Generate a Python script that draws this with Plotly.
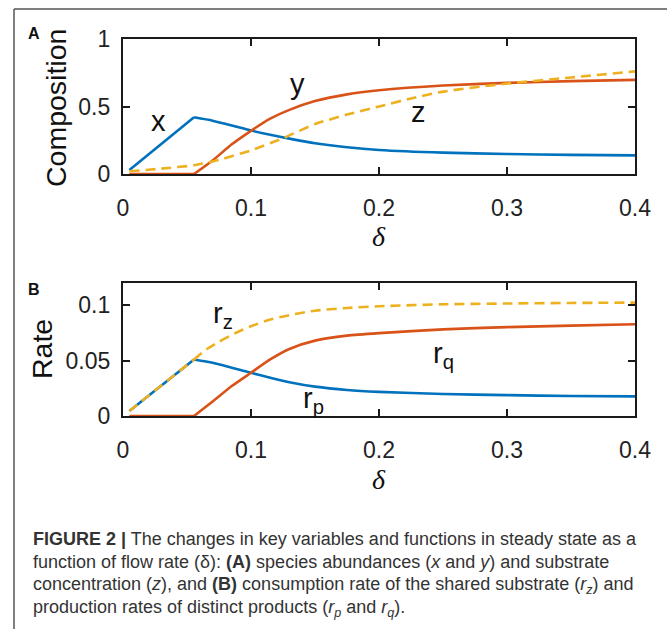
import plotly.graph_objects as go

# ---------------- data ----------------
# Panel A: composition vs flow rate delta
delta_a = [0.005, 0.0555, 0.07, 0.085, 0.1, 0.115, 0.13, 0.15, 0.175, 0.2, 0.25, 0.3, 0.35, 0.4]
x_abund = [0.03, 0.42, 0.395, 0.36, 0.322, 0.29, 0.262, 0.228, 0.198, 0.178, 0.158, 0.148, 0.142, 0.138]
y_abund = [0.0, 0.0, 0.1, 0.22, 0.32, 0.41, 0.475, 0.54, 0.59, 0.62, 0.655, 0.675, 0.688, 0.697]
delta_z = [0.005, 0.03, 0.0555, 0.075, 0.1, 0.125, 0.15, 0.175, 0.2, 0.225, 0.25, 0.3, 0.35, 0.4]
z_conc = [0.02, 0.04, 0.065, 0.105, 0.175, 0.265, 0.37, 0.44, 0.5, 0.56, 0.61, 0.67, 0.715, 0.76]

# Panel B: rates vs flow rate delta
delta_b = [0.005, 0.0555, 0.07, 0.085, 0.1, 0.115, 0.13, 0.15, 0.175, 0.2, 0.25, 0.3, 0.35, 0.4]
r_p = [0.0045, 0.051, 0.048, 0.0435, 0.039, 0.0345, 0.0305, 0.0265, 0.0235, 0.0218, 0.0198, 0.0188, 0.0181, 0.0177]
r_q = [0.0, 0.0, 0.013, 0.027, 0.039, 0.051, 0.0605, 0.068, 0.0725, 0.0748, 0.0782, 0.0802, 0.0815, 0.0828]
delta_rz = [0.005, 0.0555, 0.065, 0.075, 0.09, 0.1, 0.115, 0.13, 0.15, 0.175, 0.2, 0.25, 0.3, 0.35, 0.4]
r_z = [0.0045, 0.051, 0.06, 0.067, 0.076, 0.081, 0.087, 0.091, 0.095, 0.0975, 0.099, 0.1008, 0.1015, 0.102, 0.1023]

x_ticks = [0, 0.1, 0.2, 0.3, 0.4]
x_ticktext = ["0", "0.1", "0.2", "0.3", "0.4"]
ya_ticks = [0, 0.5, 1]
ya_ticktext = ["0", "0.5", "1"]
yb_ticks = [0, 0.05, 0.1]
yb_ticktext = ["0", "0.05", "0.1"]

caption_lines = [
    "<b>FIGURE 2 |</b> The changes in key variables and functions in steady state as a",
    "function of flow rate (δ): <b>(A)</b> species abundances (<i>x</i> and <i>y</i>) and substrate",
    "concentration (<i>z</i>), and <b>(B)</b> consumption rate of the shared substrate (<i>r<sub>z</sub></i>) and",
    "production rates of distinct products (<i>r<sub>p</sub></i> and <i>r<sub>q</sub></i>).",
]

# ---------------- styling ----------------
BLUE = "#0072BD"
RED = "#D95319"
YEL = "#EDB120"
LW = 2.6
DASH = "10px,6px"
W, H = 667, 629
SANS = "Liberation Sans, Arial, Helvetica, sans-serif"

fig = go.Figure()


def add_series(xs, ys, color, xa, ya, dash=None, kink=None):
    """Linear segment up to the kink, smooth curve after it."""
    ln = dict(color=color, width=LW)
    if dash:
        ln["dash"] = dash
    if kink is not None:
        fig.add_trace(go.Scatter(x=xs[:kink + 1], y=ys[:kink + 1], mode="lines",
                                 line=dict(ln, shape="linear"), xaxis=xa, yaxis=ya,
                                 hoverinfo="skip"))
        fig.add_trace(go.Scatter(x=xs[kink:], y=ys[kink:], mode="lines",
                                 line=dict(ln, shape="spline", smoothing=0.6), xaxis=xa, yaxis=ya,
                                 hoverinfo="skip"))
    else:
        fig.add_trace(go.Scatter(x=xs, y=ys, mode="lines",
                                 line=dict(ln, shape="spline", smoothing=0.6), xaxis=xa, yaxis=ya,
                                 hoverinfo="skip"))


# Panel A
add_series(delta_a, x_abund, BLUE, "x", "y", kink=1)
add_series(delta_a, y_abund, RED, "x", "y", kink=1)
add_series(delta_z, z_conc, YEL, "x", "y", dash=DASH)
# Panel B
add_series(delta_b, r_p, BLUE, "x2", "y2", kink=1)
add_series(delta_b, r_q, RED, "x2", "y2", kink=1)
add_series(delta_rz, r_z, YEL, "x2", "y2", dash=DASH, kink=1)

XDOM = [123 / W, 635 / W]
axis_common = dict(
    showline=True, linewidth=2.2, linecolor="#1a1a1a", mirror="ticks",
    ticks="inside", ticklen=7, tickwidth=2, tickcolor="#1a1a1a",
    showgrid=False, zeroline=False, automargin=False,
    tickfont=dict(family=SANS, size=23, color="#222"),
)

fig.update_layout(
    template="none",
    width=W, height=H, autosize=False,
    margin=dict(l=0, r=0, t=0, b=0, pad=0),
    paper_bgcolor="white", plot_bgcolor="white",
    showlegend=False,
    xaxis=dict(axis_common, domain=XDOM, anchor="y", range=[0, 0.4],
               tickvals=x_ticks, ticktext=x_ticktext, ticklabelstandoff=12),
    yaxis=dict(axis_common, domain=[1 - 174 / H, 1 - 39 / H], anchor="x", range=[0, 1],
               tickvals=ya_ticks, ticktext=ya_ticktext, ticklabelstandoff=6),
    xaxis2=dict(axis_common, domain=XDOM, anchor="y2", range=[0, 0.4],
                tickvals=x_ticks, ticktext=x_ticktext, ticklabelstandoff=12),
    yaxis2=dict(axis_common, domain=[1 - 416 / H, 1 - 283 / H], anchor="x2", range=[0, 0.12],
                tickvals=yb_ticks, ticktext=yb_ticktext, ticklabelstandoff=6),
)

C = dict(xanchor="center", yanchor="middle", showarrow=False)
ann = []
# axis titles
ann.append(dict(C, text="Composition", x=56 / W, y=1 - 108 / H, xref="paper", yref="paper",
                textangle=-90, font=dict(family=SANS, size=28.5, color="#111")))
ann.append(dict(C, text="Rate", x=42 / W, y=1 - 349 / H, xref="paper", yref="paper",
                textangle=-90, font=dict(family=SANS, size=28.5, color="#111")))
for yc in (236, 479):
    ann.append(dict(C, text="<i>δ</i>", x=379 / W, y=1 - yc / H, xref="paper", yref="paper",
                    font=dict(family="Liberation Serif, Times New Roman, serif", size=28, color="#111")))
# panel letters
ann.append(dict(C, text="<b>A</b>", x=34 / W, y=1 - 33 / H, xref="paper", yref="paper",
                font=dict(family=SANS, size=16, color="#111")))
ann.append(dict(C, text="<b>B</b>", x=34 / W, y=1 - 289 / H, xref="paper", yref="paper",
                font=dict(family=SANS, size=16, color="#111")))
# curve labels
LBL = dict(family=SANS, size=29, color="#111")
ann.append(dict(C, text="x", x=0.028, y=0.39, xref="x", yref="y", font=LBL))
ann.append(dict(C, text="y", x=0.136, y=0.666, xref="x", yref="y", font=LBL))
ann.append(dict(C, text="z", x=0.231, y=0.457, xref="x", yref="y", font=LBL))
ann.append(dict(C, text="r<sub>z</sub>", x=0.078, y=0.091, xref="x2", yref="y2", font=LBL))
ann.append(dict(C, text="r<sub>q</sub>", x=0.25, y=0.055, xref="x2", yref="y2", font=LBL))
ann.append(dict(C, text="r<sub>p</sub>", x=0.149, y=0.0145, xref="x2", yref="y2", font=LBL))
# caption
for i, line in enumerate(caption_lines):
    ann.append(dict(text=line, x=31 / W, y=1 - (539 + 23 * i) / H, xref="paper", yref="paper",
                    xanchor="left", yanchor="middle", showarrow=False, align="left",
                    font=dict(family=SANS, size=18, color="#333")))
fig.update_layout(annotations=ann)

# outer figure frame (top and left edges)
fig.add_shape(type="line", xref="paper", yref="paper", x0=14 / W, x1=1, y0=1 - 9 / H, y1=1 - 9 / H,
              line=dict(color="#555", width=1.5))
fig.add_shape(type="line", xref="paper", yref="paper", x0=14 / W, x1=14 / W, y0=1 - 9 / H, y1=0,
              line=dict(color="#555", width=1.5))

fig.write_html("out.html", config={"displayModeBar": False},
               post_script="document.body.style.margin='0';document.body.style.overflow='hidden';")
